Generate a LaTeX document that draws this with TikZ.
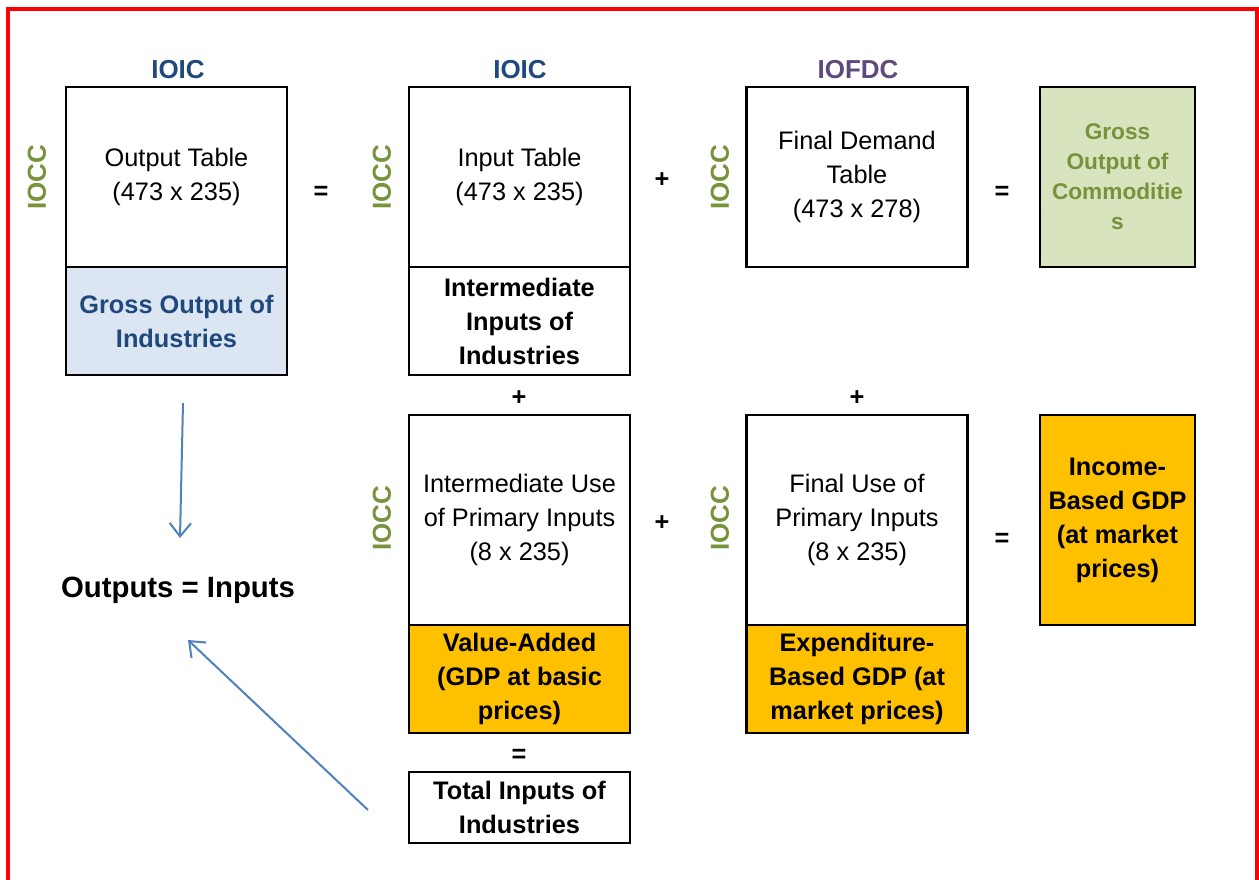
\documentclass[tikz,border=0pt]{standalone}
\usepackage{fontspec}
\setmainfont{Liberation Sans}
\usetikzlibrary{arrows.meta}
\definecolor{hdblue}{HTML}{1F497D}
\definecolor{hdgreen}{HTML}{77933C}
\definecolor{hdpurple}{HTML}{604A7B}
\definecolor{ltblue}{HTML}{DCE6F2}
\definecolor{ltgreen}{HTML}{D7E4BD}
\definecolor{gold}{HTML}{FFC000}
\definecolor{arrblue}{HTML}{4F81BD}
\tikzset{
  tbox/.style={draw=black, line width=1.6pt, rectangle, inner sep=0pt, align=center,
    font=\fontsize{19}{25.5}\selectfont, minimum width=165.75pt},
  topbox/.style={tbox, minimum height=135pt},
  lowbox/.style={tbox, minimum height=81pt, font=\fontsize{19}{25.5}\selectfont\bfseries},
  bigbox/.style={tbox, minimum height=157.5pt},
  sidebox/.style={tbox, minimum width=116.25pt, font=\fontsize{19}{25.5}\selectfont\bfseries},
  hdr/.style={font=\fontsize{19.5}{24}\selectfont\bfseries, inner sep=0pt},
  side/.style={font=\fontsize{19.5}{24}\selectfont\bfseries, text=hdgreen, rotate=90, inner sep=0pt},
  op/.style={font=\fontsize{19}{24}\selectfont\bfseries, inner sep=0pt},
  arr/.style={draw=arrblue, line width=1.5pt, -{Straight Barb[length=10pt,width=16pt,line width=1.5pt]}},
}
\begin{document}
\begin{tikzpicture}[x=0.75pt,y=-0.75pt]
\useasboundingbox (0,0) rectangle (1259,879);
\draw[red, line width=3pt] (7.5,8.5) rectangle (1256.5,900);

% headers
\node[hdr, text=hdblue] (h1) at (178,70) {IOIC};
\node[hdr, text=hdblue] (h2) at (520,70) {IOIC};
\node[hdr, text=hdpurple] (h3) at (858,70) {IOFDC};

% side labels
\node[side] (s1) at (37,177) {IOCC};
\node[side] (s2) at (382,177) {IOCC};
\node[side] (s3) at (720,177) {IOCC};
\node[side] (s4) at (382,518) {IOCC};
\node[side] (s5) at (720,518) {IOCC};

% top row
\node[topbox] (ot) at (176.5,177) {Output Table\\(473 x 235)};
\node[lowbox, fill=ltblue, text=hdblue, minimum height=81pt] (go) at (176.5,321) {Gross Output of\\Industries};
\node[topbox] (it) at (519.5,177) {Input Table\\(473 x 235)};
\node[lowbox] (ii) at (519.5,321) {Intermediate\\Inputs of\\Industries};
\node[topbox] (fd) at (857,177) {Final Demand\\Table\\(473 x 278)};
\node[sidebox, minimum height=135pt, fill=ltgreen, text=hdgreen, font=\fontsize{17}{22.5}\selectfont\bfseries] (goc) at (1117.5,177) {Gross\\Output of\\Commoditie\\s};

% middle row
\node[bigbox] (iu) at (519.5,520) {Intermediate Use\\of Primary Inputs\\(8 x 235)};
\node[lowbox, fill=gold] (va) at (519.5,679) {Value-Added\\(GDP at basic\\prices)};
\node[bigbox] (fu) at (857,520) {Final Use of\\Primary Inputs\\(8 x 235)};
\node[lowbox, fill=gold] (eb) at (857,679) {Expenditure-\\Based GDP (at\\market prices)};
\node[sidebox, minimum height=157.5pt, fill=gold] (ib) at (1117.5,520) {Income-\\Based GDP\\(at market\\prices)};

% bottom
\node[tbox, minimum height=53.25pt, font=\fontsize{19}{25.5}\selectfont\bfseries] (ti) at (519.5,807.5) {Total Inputs of\\Industries};

% operators
\node[op] (e1) at (321,193) {=};
\node[op] (p1) at (662,180) {+};
\node[op] (e2) at (1002,193) {=};
\node[op] (p2) at (519,398) {+};
\node[op] (p3) at (857,398) {+};
\node[op] (p4) at (662,523) {+};
\node[op] (e3) at (1002,540) {=};
\node[op] (e4) at (519,756) {=};

% outputs = inputs
\node[font=\fontsize{22}{26}\selectfont\bfseries, inner sep=0pt] (oi) at (178,590) {Outputs = Inputs};

\coordinate (a1s) at (183,403);
\coordinate (a1e) at (180,538);
\coordinate (a2s) at (368,810);
\coordinate (a2e) at (188,640);
\draw[arr] (a1s) -- (a1e);
\draw[arr] (a2s) -- (a2e);
\end{tikzpicture}
\end{document}
